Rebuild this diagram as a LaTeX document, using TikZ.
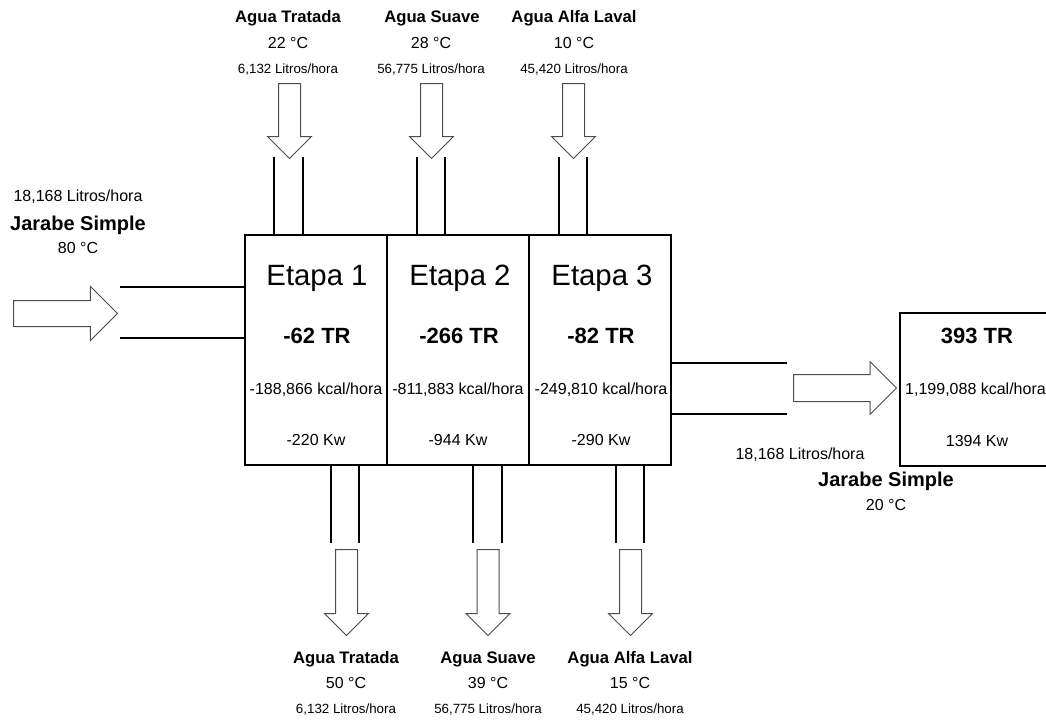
\documentclass[tikz,border=0pt]{standalone}
\usepackage{fontspec}
\setmainfont{Liberation Sans}
\usetikzlibrary{shapes.arrows,positioning}

\tikzset{
  etapa/.style={draw, line width=1.5pt, minimum width=106.5pt, minimum height=172.5pt, inner sep=0pt},
  total/.style={draw, line width=0.9pt, minimum width=120pt, minimum height=114.75pt, inner sep=0pt},
  flecha/.style={single arrow, draw=black!70, fill=white, line width=0.75pt,
    inner xsep=0pt, inner ysep=7.875pt, single arrow tip angle=90, single arrow head extend=8.25pt},
  tubo/.style={line width=0.9pt},
  titulo/.style={anchor=base, font=\fontsize{22}{26}\selectfont},
  tr/.style={anchor=base, font=\bfseries\fontsize{16.5}{20}\selectfont},
  dato/.style={anchor=base, font=\fontsize{12}{14}\selectfont},
  agua/.style={anchor=base, font=\bfseries\fontsize{12.5}{15}\selectfont},
  jarabe/.style={anchor=base, font=\bfseries\fontsize{15}{18}\selectfont},
  flujo/.style={anchor=base, font=\fontsize{10}{12}\selectfont},
}

\begin{document}
\begin{tikzpicture}[x=0.75pt, y=-0.75pt, line cap=butt]
  \useasboundingbox (0,0) rectangle (1046,721);

  % Etapas
  \node[etapa] (e1) at (316,350) {};
  \node[etapa] (e2) at (458,350) {};
  \node[etapa] (e3) at (600,350) {};

  \node[titulo] (e1t) at (317,285) {Etapa 1};
  \node[titulo] (e2t) at (460,285) {Etapa 2};
  \node[titulo] (e3t) at (602,285) {Etapa 3};
  \node[tr] (e1r) at (317,343) {-62 TR};
  \node[tr] (e2r) at (459,343) {-266 TR};
  \node[tr] (e3r) at (601,343) {-82 TR};
  \node[dato] (e1k) at (316,394) {-188,866 kcal/hora};
  \node[dato] (e2k) at (458,394) {-811,883 kcal/hora};
  \node[dato] (e3k) at (601,394) {-249,810 kcal/hora};
  \node[dato] (e1w) at (316,445) {-220 Kw};
  \node[dato] (e2w) at (458,445) {-944 Kw};
  \node[dato] (e3w) at (601,445) {-290 Kw};

  % Entradas de agua (arriba)
  \coordinate (t1a) at (274,157);  \coordinate (t1b) at (303,157);
  \coordinate (t2a) at (417,157);  \coordinate (t2b) at (445,157);
  \coordinate (t3a) at (559,157);  \coordinate (t3b) at (587,157);
  \foreach \t/\e in {t1/e1, t2/e2, t3/e3} {
    \draw[tubo] (\t a) -- (\t a |- \e.north);
    \draw[tubo] (\t b) -- (\t b |- \e.north);
  }
  \node[flecha, rotate=-90, anchor=tail, minimum height=56.25pt] (f1) at (289.5,83) {};
  \node[flecha, rotate=-90, anchor=tail, minimum height=56.25pt] (f2) at (431.5,83) {};
  \node[flecha, rotate=-90, anchor=tail, minimum height=56.25pt] (f3) at (573.5,83) {};

  \node[agua] (a1) at (288,22) {Agua Tratada};
  \node[agua] (a2) at (432,22) {Agua Suave};
  \node[agua] (a3) at (574,22) {Agua Alfa Laval};
  \node[dato] (a1c) at (288,48) {22 °C};
  \node[dato] (a2c) at (431,48) {28 °C};
  \node[dato] (a3c) at (574,48) {10 °C};
  \node[flujo] (a1f) at (288,73) {6,132 Litros/hora};
  \node[flujo] (a2f) at (431,73) {56,775 Litros/hora};
  \node[flujo] (a3f) at (574,73) {45,420 Litros/hora};

  % Salidas de agua (abajo)
  \coordinate (b1a) at (331,543);  \coordinate (b1b) at (359,543);
  \coordinate (b2a) at (473,543);  \coordinate (b2b) at (502,543);
  \coordinate (b3a) at (616,543);  \coordinate (b3b) at (644,543);
  \foreach \b/\e in {b1/e1, b2/e2, b3/e3} {
    \draw[tubo] (\b a |- \e.south) -- (\b a);
    \draw[tubo] (\b b |- \e.south) -- (\b b);
  }
  \node[flecha, rotate=-90, anchor=tail, minimum height=64.5pt] (g1) at (346.5,549) {};
  \node[flecha, rotate=-90, anchor=tail, minimum height=64.5pt] (g2) at (488,549) {};
  \node[flecha, rotate=-90, anchor=tail, minimum height=64.5pt] (g3) at (630.5,549) {};

  \node[agua] (s1) at (346,663) {Agua Tratada};
  \node[agua] (s2) at (488,663) {Agua Suave};
  \node[agua] (s3) at (630,663) {Agua Alfa Laval};
  \node[dato] (s1c) at (346,688) {50 °C};
  \node[dato] (s2c) at (488,688) {39 °C};
  \node[dato] (s3c) at (630,688) {15 °C};
  \node[flujo] (s1f) at (346,713) {6,132 Litros/hora};
  \node[flujo] (s2f) at (488,713) {56,775 Litros/hora};
  \node[flujo] (s3f) at (630,713) {45,420 Litros/hora};

  % Jarabe simple entrada
  \coordinate (j1a) at (120,287);  \coordinate (j1b) at (120,338);
  \draw[tubo] (j1a) -- (j1a -| e1.west);
  \draw[tubo] (j1b) -- (j1b -| e1.west);
  \node[flecha, anchor=tail, minimum height=78pt, inner ysep=9.375pt,
    single arrow head extend=10.5pt] (fj1) at (13,313.5) {};
  \node[dato] (j1f) at (78,201) {18,168 Litros/hora};
  \node[jarabe] (j1n) at (78,230) {Jarabe Simple};
  \node[dato] (j1c) at (78,253) {80 °C};

  % Jarabe simple salida
  \coordinate (j2a) at (787,363);  \coordinate (j2b) at (787,414);
  \draw[tubo] (j2a -| e3.east) -- (j2a);
  \draw[tubo] (j2b -| e3.east) -- (j2b);
  \node[flecha, anchor=tail, minimum height=77.25pt, inner ysep=9.75pt,
    single arrow head extend=9.75pt] (fj2) at (793,388) {};
  \node[dato] (j2f) at (800,459) {18,168 Litros/hora};
  \node[jarabe] (j2n) at (886,486) {Jarabe Simple};
  \node[dato] (j2c) at (886,510) {20 °C};

  % Total
  \node[total] (tot) at (980,389.5) {};
  \node[tr] (totr) at (977,343) {393 TR};
  \node[dato] (totk) at (975.5,394) {1,199,088 kcal/hora};
  \node[dato] (totw) at (977,446) {1394 Kw};
\end{tikzpicture}
\end{document}
